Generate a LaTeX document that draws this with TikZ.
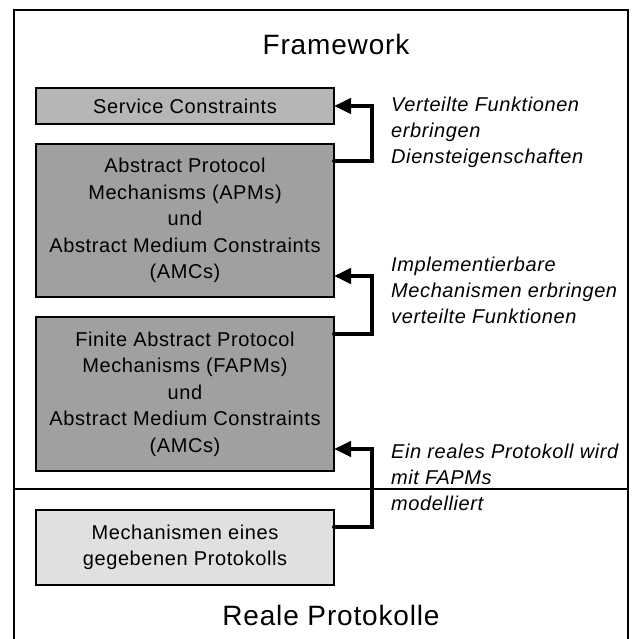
\documentclass[tikz,border=0pt]{standalone}
\usepackage{fontspec}
\setmainfont{Liberation Sans}[LetterSpace=3]
\usetikzlibrary{arrows.meta}
\definecolor{scfill}{RGB}{182,182,182}
\definecolor{apmfill}{RGB}{160,160,160}
\definecolor{mechfill}{RGB}{224,224,224}
\begin{document}
\begin{tikzpicture}[x=1pt,y=-1pt,
  box/.style={draw=black, line width=1.8pt, minimum width=298pt, anchor=north west,
    inner sep=0pt, outer sep=0pt, align=center, font=\fontsize{20}{26.5}\selectfont},
  title/.style={anchor=base, font=\fontsize{28}{34}\selectfont},
  note/.style={anchor=base west, align=left, inner sep=0pt, font=\itshape\fontsize{20}{26}\selectfont},
  conn/.style={line width=4pt, line cap=round, line join=miter, -{Triangle[length=17pt,width=15pt]}},
  frameline/.style={line width=2pt}]
\useasboundingbox (0,0) rectangle (635,639);
% frame
\coordinate (fbl) at (14,650);
\coordinate (ftl) at (14,10);
\coordinate (ftr) at (628,10);
\coordinate (fbr) at (628,650);
\coordinate (dl) at (14,489);
\coordinate (dr) at (628,489);
\draw[frameline] (fbl) -- (ftl) -- (ftr) -- (fbr);
\draw[frameline] (dl) -- (dr);
% titles
\node[title] (fw) at (336,55) {Framework};
\node[title] (rp) at (331,625) {Reale Protokolle};
% boxes
\node[box, fill=scfill, minimum height=36pt] (sc) at (36,88) {Service Constraints};
\node[box, fill=apmfill, minimum height=153pt] (apm) at (36,144)
  {Abstract Protocol\\Mechanisms (APMs)\\und\\Abstract Medium Constraints\\(AMCs)};
\node[box, fill=apmfill, minimum height=154pt] (fapm) at (36,317)
  {Finite Abstract Protocol\\Mechanisms (FAPMs)\\und\\Abstract Medium Constraints\\(AMCs)};
\node[box, fill=mechfill, minimum height=75pt] (mech) at (36,510)
  {Mechanismen eines\\gegebenen Protokolls};
% connectors
\draw[conn] ([yshift=-17pt]apm.north east) -- ++(38,0) |- (sc.east);
\draw[conn] ([yshift=-17pt]fapm.north east) -- ++(38,0) |- ([yshift=21pt]apm.south east);
\draw[conn] ([yshift=-17pt]mech.north east) -- ++(38,0) |- ([yshift=22pt]fapm.south east);
% labels (anchor = baseline of last line)
\node[note] (l1) at (391,164) {Verteilte Funktionen\\erbringen\\Diensteigenschaften};
\node[note] (l2) at (391,323) {Implementierbare\\Mechanismen erbringen\\verteilte Funktionen};
\node[note] (l3) at (391,510) {Ein reales Protokoll wird\\mit FAPMs\\modelliert};
\end{tikzpicture}
\end{document}
